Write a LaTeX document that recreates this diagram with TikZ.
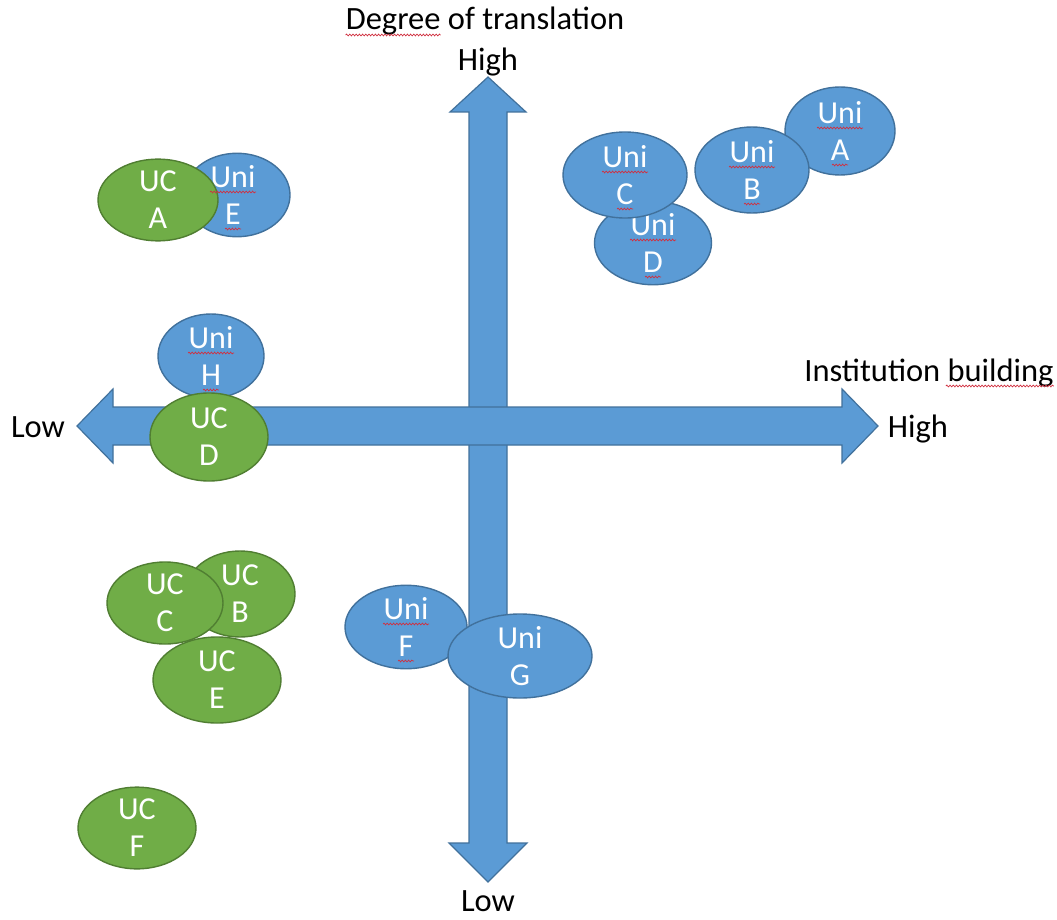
\documentclass[tikz,border=0pt]{standalone}
\usepackage{fontspec}
\setmainfont{Carlito}
\usetikzlibrary{shapes.geometric,decorations.pathmorphing,calc}
\definecolor{bfill}{HTML}{5B9BD5}
\definecolor{bline}{HTML}{41719C}
\definecolor{gfill}{HTML}{70AD47}
\definecolor{gline}{HTML}{507E32}
\definecolor{sqred}{HTML}{D03040}
\tikzset{
  blob/.style={ellipse, inner sep=0pt, line width=1.4pt, text=white, align=center,
    font=\fontsize{32}{37}\selectfont},
  unib/.style={blob, fill=bfill, draw=bline},
  ucg/.style={blob, fill=gfill, draw=gline},
  axisarrow/.style={fill=bfill, draw=bline, line width=1.2pt, line join=miter},
  lbl/.style={anchor=base, inner sep=0pt, font=\fontsize{32.5}{38}\selectfont},
  squig/.style={draw=sqred, line width=0.7pt, decorate,
    decoration={snake, amplitude=0.9pt, segment length=3.2pt}}
}
\newcommand\squig[4]{\draw[squig] ($(#1)+(#2-#4,#3)$) -- ($(#1)+(#2+#4,#3)$);}
\begin{document}
\begin{tikzpicture}[x=1pt,y=-1pt]
\useasboundingbox (0,0) rectangle (1057,920);
\fill[white] (0,0) rectangle (1057,920);
% vertical arrow
\draw[axisarrow] (488,77) -- (526,112) -- (507,112) -- (507,843) -- (527,843) -- (488,882)
  -- (449,843) -- (469,843) -- (469,112) -- (450,112) -- cycle;
% horizontal arrow
\draw[axisarrow] (77,426) -- (113,389) -- (113,407) -- (842,407) -- (842,389) -- (878,426)
  -- (842,463) -- (842,445) -- (113,445) -- (113,463) -- cycle;
% labels
\node[lbl] (ylab) at (485,30) {Degree of translation};
\node[lbl] (yhigh) at (488,71) {High};
\node[lbl] (ylow) at (488,911) {Low};
\node[lbl] (xlow) at (38,437) {Low};
\node[lbl] (xhigh) at (918,437) {High};
\node[lbl] (xlab) at (929,381) {Institution building};
\draw[squig] ($(ylab.base west)+(0,5)$) -- ++(95,0);
\draw[squig] ($(xlab.base east)+(-108,5)$) -- ++(108,0);
% blue ellipses
\node[unib, minimum width=110pt, minimum height=88pt] (uniA) at (840,131) {Uni\\A};
\node[unib, minimum width=114pt, minimum height=86pt] (uniB) at (752,170) {Uni\\B};
\node[unib, minimum width=117pt, minimum height=82pt] (uniD) at (653,243) {Uni\\D};
\node[unib, minimum width=124pt, minimum height=86pt] (uniC) at (625,175) {Uni\\C};
\node[unib, minimum width=106pt, minimum height=80pt] (uniE) at (237,195) {\hspace*{-8pt}Uni\\\hspace*{-8pt}E};
\node[unib, minimum width=106pt, minimum height=84pt] (uniH) at (211,356) {Uni\\H};
\node[unib, minimum width=122pt, minimum height=80pt] (uniF) at (406,627) {Uni\\F};
\node[unib, minimum width=144pt, minimum height=84pt] (uniG) at (520,656) {Uni\\G};
% green ellipses
\node[ucg, minimum width=120pt, minimum height=80pt] (ucA) at (158,200) {UC\\A};
\node[ucg, minimum width=118pt, minimum height=88pt] (ucD) at (209,437) {UC\\D};
\node[ucg, minimum width=110pt, minimum height=86pt] (ucB) at (240,594) {UC\\B};
\node[ucg, minimum width=116pt, minimum height=80pt] (ucC) at (165,603) {UC\\C};
\node[ucg, minimum width=128pt, minimum height=86pt] (ucE) at (217,680) {UC\\E};
\node[ucg, minimum width=118pt, minimum height=80pt] (ucF) at (137,828) {UC\\F};
% spell-check squiggles
\foreach \n in {uniA,uniB,uniC,uniF,uniH}{\squig{\n}{0}{-3}{23}\squig{\n}{0}{34}{8}}
\squig{uniE}{-4}{-3}{23}\squig{uniE}{-4}{34}{8}
\squig{uniD}{0}{-3}{23}\squig{uniD}{0}{34}{8}
\end{tikzpicture}
\end{document}
